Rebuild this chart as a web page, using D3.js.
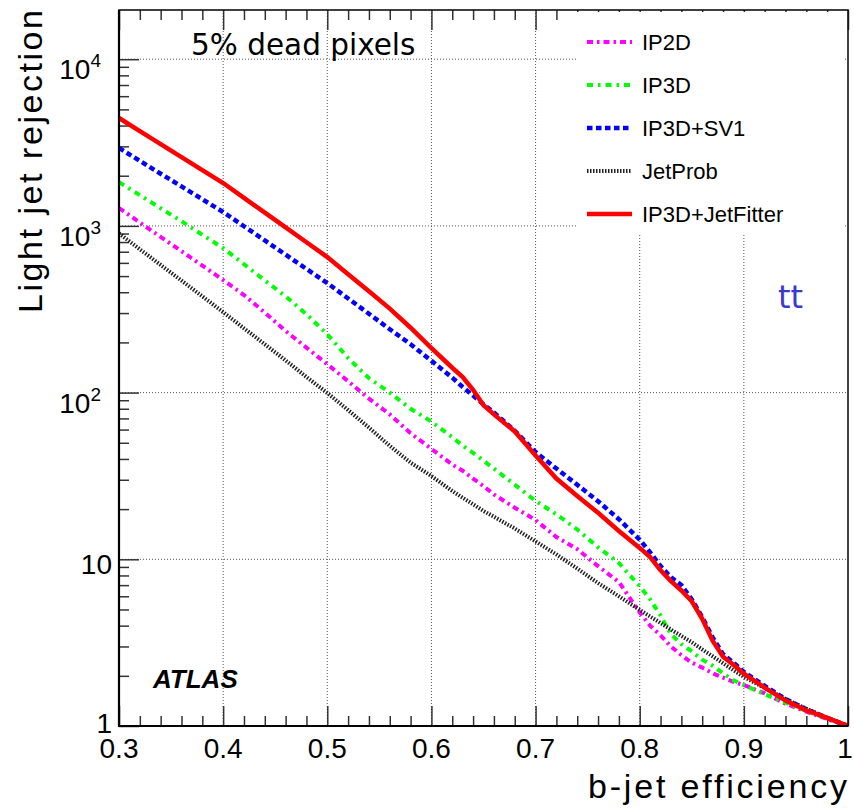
<!DOCTYPE html>
<html>
<head>
<meta charset="utf-8">
<script src="https://cdn.jsdelivr.net/npm/d3@7"></script>
<style>
  body { margin: 0; background: #fff; }
  svg { display: block; }
</style>
</head>
<body>
<svg id="chart" width="854" height="812"></svg>
<script>
// b-jet efficiency grid shared by all curves
const efficiency = [0.30,0.32,0.34,0.36,0.38,0.40,0.42,0.44,0.46,0.48,0.50,0.52,0.54,0.56,0.58,0.60,0.62,0.63,0.64,0.65,0.66,0.68,0.70,0.72,0.74,0.76,0.78,0.80,0.81,0.82,0.83,0.84,0.85,0.86,0.87,0.88,0.89,0.90,0.92,0.94,0.96,0.98,1.00];

// light jet rejection per tagger
const ip2d = [1280,1047,859,705,578,473,385,302,234,186,148,117,92,74,57,46,37,34,30.5,27.5,24.5,20.4,17.2,13.6,11.5,9.1,7.3,4.8,4.0,3.5,3.0,2.66,2.4,2.24,2.07,1.95,1.84,1.76,1.57,1.36,1.22,1.10,1.0];
const ip3d = [1830,1528,1276,1067,885,736,589,471,378,295,224,161,122,100,80,67,54,48,43.5,39,35,28,22.4,18.6,15.1,11.8,9.5,6.9,5.75,4.6,3.55,3.1,2.8,2.5,2.3,2.07,1.88,1.76,1.55,1.38,1.23,1.11,1.0];
const ip3dSv1 = [2934,2455,2056,1725,1445,1211,995,818,672,552,454,367,297,240,195,155,123,108,96,85,76,59,44,35,28,22.3,17.4,13.1,11,9.1,7.8,7.0,5.75,4.5,3.4,2.7,2.4,2.11,1.74,1.45,1.26,1.12,1.0];
const jetProb = [902,724,583,470,378,304,243,195,156,124,99.5,78.5,61.7,47.9,38,31.6,25.7,23.4,21.4,19.5,18,15.3,12.8,10.7,8.8,7.2,6.0,4.97,4.54,4.15,3.79,3.47,3.18,2.88,2.62,2.38,2.16,1.97,1.69,1.45,1.27,1.12,1.0];
const ip3dJetFitter = [4440,3707,3097,2588,2163,1808,1472,1200,979,798,650,513,405,319,245,185,141,124,104,84,74,58.5,42,30.5,24,19,14.8,11.7,10.3,8.6,7.4,6.5,5.6,4.4,3.25,2.6,2.33,2.06,1.7,1.42,1.24,1.12,1.0];

const seriesNames = ["IP2D", "IP3D", "IP3D+SV1", "JetProb", "IP3D+JetFitter"];
const seriesValues = [ip2d, ip3d, ip3dSv1, jetProb, ip3dJetFitter];
const seriesColors = ["#ff00ff", "#00ff00", "#0000ff", "#222222", "#ff0000"];
const seriesDash = ["6,4,2.5,4", "6,5,2.5,5", "5.5,3.5", "1.5,1.5", null];
const seriesWidth = [4, 4, 4.5, 4, 4.5];

const xMajor = [0.3,0.4,0.5,0.6,0.7,0.8,0.9,1.0];
const xLabels = ["0.3","0.4","0.5","0.6","0.7","0.8","0.9","1"];
const yMajor = [1,10,100,1000,10000];
const yExp = [null,null,"2","3","4"];

const svg = d3.select("#chart");
const plotL = 119, plotR = 848, plotT = 10, plotB = 726;

const x = d3.scaleLinear().domain([0.3, 1.0]).range([plotL, plotR]);
const y = d3.scaleLog().domain([1, 19730]).range([plotB, plotT]);

// minor ticks
const xMinor = d3.range(0.30, 1.0001, 0.02).map(v => +v.toFixed(2)).filter(v => !xMajor.some(m => Math.abs(m - v) < 1e-6));
const yMinor = [];
[1,10,100,1000,10000].forEach(d => { for (let k = 2; k <= 9; k++) if (d*k < 19730) yMinor.push(d*k); });

// clip for curves
svg.append("clipPath").attr("id", "plotclip")
  .append("rect").attr("x", plotL).attr("y", plotT).attr("width", plotR-plotL).attr("height", plotB-plotT);

// grid
const grid = svg.append("g").attr("stroke", "#555").attr("stroke-width", 1).attr("stroke-dasharray", "1,2");
grid.selectAll(".gx").data(xMajor.slice(1, -1)).enter().append("line")
  .attr("x1", d => x(d)).attr("x2", d => x(d)).attr("y1", plotT).attr("y2", plotB);
grid.selectAll(".gy").data(yMajor.slice(1)).enter().append("line")
  .attr("y1", d => y(d)).attr("y2", d => y(d)).attr("x1", plotL).attr("x2", plotR);

// axes tick marks
function tickAxis(axis, g) {
  g.call(axis.tickFormat(""));
  g.select(".domain").remove();
  g.selectAll(".tick line").attr("stroke", "#333").attr("stroke-width", 1.5);
}
tickAxis(d3.axisLeft(y).tickValues(yMajor).tickSize(-20), svg.append("g").attr("transform", `translate(${plotL},0)`));
tickAxis(d3.axisLeft(y).tickValues(yMinor).tickSize(-10), svg.append("g").attr("transform", `translate(${plotL},0)`));
tickAxis(d3.axisBottom(x).tickValues(xMajor).tickSize(-20), svg.append("g").attr("transform", `translate(0,${plotB})`));
tickAxis(d3.axisBottom(x).tickValues(xMinor).tickSize(-10), svg.append("g").attr("transform", `translate(0,${plotB})`));
tickAxis(d3.axisTop(x).tickValues(xMajor).tickSize(-20), svg.append("g").attr("transform", `translate(0,${plotT})`));
tickAxis(d3.axisTop(x).tickValues(xMinor).tickSize(-10), svg.append("g").attr("transform", `translate(0,${plotT})`));

// curves
const line = d3.line().x((d, i) => x(efficiency[i])).y(d => y(d));
const curves = svg.append("g").attr("clip-path", "url(#plotclip)");
seriesValues.forEach((vals, i) => {
  curves.append("path").datum(vals)
    .attr("d", line)
    .attr("fill", "none")
    .attr("stroke", seriesColors[i])
    .attr("stroke-width", seriesWidth[i])
    .attr("stroke-dasharray", seriesDash[i]);
});

// legend
svg.append("rect").attr("x", 577).attr("y", 12).attr("width", 266).attr("height", 221).attr("fill", "#fff");
const legend = svg.append("g");
seriesNames.forEach((name, i) => {
  const by = 50 + i * 43;
  legend.append("line").attr("x1", 587).attr("x2", 632).attr("y1", by - 8).attr("y2", by - 8)
    .attr("stroke", seriesColors[i]).attr("stroke-width", seriesWidth[i]).attr("stroke-dasharray", seriesDash[i]);
  legend.append("text").attr("x", 642).attr("y", by)
    .attr("font-family", "Liberation Sans, Arial, sans-serif").attr("font-size", 22)
    .attr("fill", "#000").text(name);
});

// frame
svg.append("rect").attr("x", plotL).attr("y", plotT).attr("width", plotR-plotL).attr("height", plotB-plotT)
  .attr("fill", "none").attr("stroke", "#111").attr("stroke-width", 1.6);
svg.append("line").attr("x1", plotL).attr("x2", plotL).attr("y1", plotT).attr("y2", plotB+1).attr("stroke", "#000").attr("stroke-width", 2.2);
svg.append("line").attr("x1", plotL-1).attr("x2", plotR).attr("y1", plotB).attr("y2", plotB).attr("stroke", "#000").attr("stroke-width", 2.2);

// tick labels
const font = "Liberation Sans, Arial, Helvetica, sans-serif";
svg.append("g").selectAll("text").data(xMajor).enter().append("text")
  .attr("x", d => d === 1 ? x(d) - 3 : x(d)).attr("y", 758).attr("text-anchor", "middle")
  .attr("font-family", font).attr("font-size", 28).text((d, i) => xLabels[i]);

yMajor.forEach((v, i) => {
  const t = svg.append("text").attr("font-family", font).attr("font-size", 28).attr("text-anchor", "end");
  if (yExp[i]) {
    t.attr("x", 101).attr("y", y(v) + 20);
    t.append("tspan").text("10");
    t.append("tspan").attr("font-size", 19).attr("dy", -12).text(yExp[i]);
  } else if (v === 10) {
    t.attr("x", 112).attr("y", y(v) + 15).text("10");
  } else {
    t.attr("x", 112).attr("y", y(v) + 7).text("1");
  }
});

// axis titles
svg.append("text").attr("x", 847).attr("y", 798).attr("text-anchor", "end")
  .attr("font-family", font).attr("font-size", 34)
  .attr("textLength", 259).attr("lengthAdjust", "spacing").text("b-jet efficiency");
svg.append("text").attr("transform", "translate(42,10) rotate(-90)").attr("text-anchor", "end")
  .attr("font-family", font).attr("font-size", 34)
  .attr("textLength", 303).attr("lengthAdjust", "spacing").text("Light jet rejection");

// annotations
svg.append("text").attr("x", 191).attr("y", 55).attr("font-family", "DejaVu Sans, sans-serif")
  .attr("font-size", 29.5).text("5% dead pixels");
svg.append("text").attr("x", 778).attr("y", 308).attr("font-family", "DejaVu Sans, sans-serif")
  .attr("font-size", 32).attr("fill", "#3a3ad0").text("tt");
svg.append("text").attr("x", 153).attr("y", 688).attr("font-family", font)
  .attr("font-size", 26).attr("font-weight", "bold").attr("font-style", "italic").text("ATLAS");
</script>
</body>
</html>
